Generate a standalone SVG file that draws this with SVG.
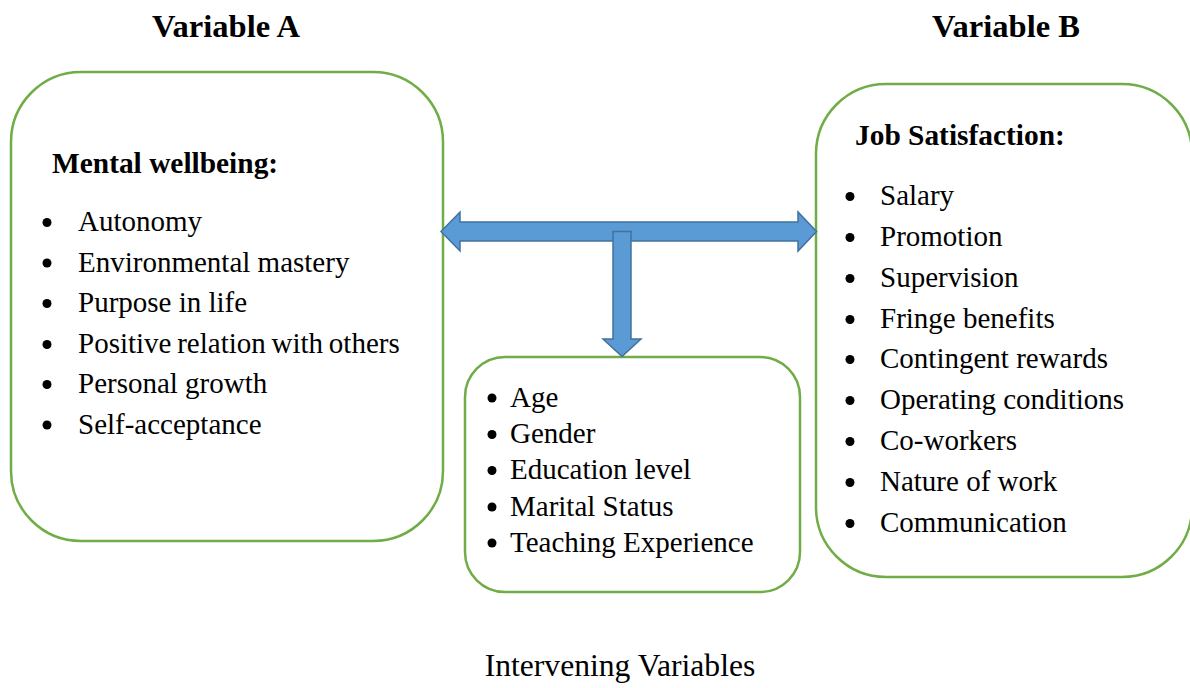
<svg xmlns="http://www.w3.org/2000/svg" width="1190" height="688" viewBox="0 0 1190 688">
  <style>
    .box { fill: #ffffff; stroke: #70AD47; stroke-width: 2.5; }
    .arrow { fill: #5B9BD5; stroke: #41719C; stroke-width: 1.5; stroke-linejoin: miter; }
    .title { font-family: "Liberation Serif", "Times New Roman", serif; font-weight: bold; font-size: 32.5px; fill: #000; }
    .head { font-family: "Liberation Serif", "Times New Roman", serif; font-weight: bold; font-size: 29.4px; fill: #000; }
    .item { font-family: "Liberation Serif", "Times New Roman", serif; font-size: 29px; fill: #000; }
    .caption { font-family: "Liberation Serif", "Times New Roman", serif; font-size: 31.6px; fill: #000; }
    .dot { fill: #000; }
  </style>
  <rect width="1190" height="688" fill="#ffffff"/>

  <!-- column titles -->
  <g id="title-a"><text class="title" x="226" y="37" text-anchor="middle">Variable A</text></g>
  <g id="title-b"><text class="title" x="1006" y="37" text-anchor="middle">Variable B</text></g>

  <!-- Variable A: mental wellbeing -->
  <g id="node-mental-wellbeing">
    <rect class="box" x="11" y="72" width="432" height="469" rx="70" ry="70"/>
    <text class="head" x="52" y="173">Mental wellbeing:</text>
    <g class="dot">
      <circle cx="47" cy="222.5" r="4.5"/>
      <circle cx="47" cy="263" r="4.5"/>
      <circle cx="47" cy="303.5" r="4.5"/>
      <circle cx="47" cy="344.5" r="4.5"/>
      <circle cx="47" cy="384.5" r="4.5"/>
      <circle cx="47" cy="425" r="4.5"/>
    </g>
    <text class="item" x="78" y="231">Autonomy</text>
    <text class="item" x="78" y="272">Environmental mastery</text>
    <text class="item" x="78" y="312">Purpose in life</text>
    <text class="item" x="78" y="353" word-spacing="-1.5">Positive relation with others</text>
    <text class="item" x="78" y="393">Personal growth</text>
    <text class="item" x="78" y="434">Self-acceptance</text>
  </g>

  <!-- Variable B: job satisfaction -->
  <g id="node-job-satisfaction">
    <rect class="box" x="816" y="84" width="376" height="493" rx="70" ry="70"/>
    <text class="head" x="855" y="145">Job Satisfaction:</text>
    <g class="dot">
      <circle cx="850" cy="196.5" r="4.5"/>
      <circle cx="850" cy="237.5" r="4.5"/>
      <circle cx="850" cy="278.5" r="4.5"/>
      <circle cx="850" cy="319.5" r="4.5"/>
      <circle cx="850" cy="359.5" r="4.5"/>
      <circle cx="850" cy="400.5" r="4.5"/>
      <circle cx="850" cy="441.5" r="4.5"/>
      <circle cx="850" cy="482.5" r="4.5"/>
      <circle cx="850" cy="523.5" r="4.5"/>
    </g>
    <text class="item" x="880" y="205">Salary</text>
    <text class="item" x="880" y="246">Promotion</text>
    <text class="item" x="880" y="287">Supervision</text>
    <text class="item" x="880" y="328">Fringe benefits</text>
    <text class="item" x="880" y="368">Contingent rewards</text>
    <text class="item" x="880" y="409">Operating conditions</text>
    <text class="item" x="880" y="450">Co-workers</text>
    <text class="item" x="880" y="491">Nature of work</text>
    <text class="item" x="880" y="532">Communication</text>
  </g>

  <!-- intervening variables -->
  <g id="node-intervening">
    <rect class="box" x="465" y="357" width="335" height="235" rx="40" ry="40"/>
    <g class="dot">
      <circle cx="492" cy="398" r="4.5"/>
      <circle cx="492" cy="434.5" r="4.5"/>
      <circle cx="492" cy="470.5" r="4.5"/>
      <circle cx="492" cy="507" r="4.5"/>
      <circle cx="492" cy="543" r="4.5"/>
    </g>
    <text class="item" x="510" y="407">Age</text>
    <text class="item" x="510" y="443">Gender</text>
    <text class="item" x="510" y="479">Education level</text>
    <text class="item" x="510" y="516">Marital Status</text>
    <text class="item" x="510" y="552">Teaching Experience</text>
  </g>

  <g id="caption"><text class="caption" x="620" y="676" text-anchor="middle">Intervening Variables</text></g>

  <!-- block arrows linking the three boxes -->
  <g id="connectors">
    <polygon class="arrow" points="441,231.5 460,212 460,222 798,222 798,212 816.5,231.5 798,251 798,241 460,241 460,251"/>
    <polygon class="arrow" points="613,231.5 631,231.5 631,339 641,339 622,356.5 603,339 613,339"/>
  </g>
</svg>
